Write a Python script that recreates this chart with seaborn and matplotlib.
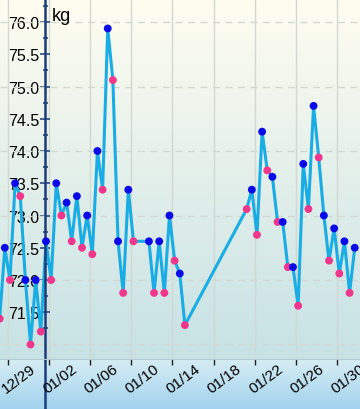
import numpy as np
import pandas as pd
import matplotlib
matplotlib.use("Agg")
import matplotlib.pyplot as plt
from matplotlib.colors import LinearSegmentedColormap
import seaborn as sns


# morning (pink) and evening (blue) weigh-ins
AM_DAYS = ['2014-12-28', '2014-12-29', '2014-12-30', '2014-12-31', '2015-01-01',
           '2015-01-02', '2015-01-03', '2015-01-04', '2015-01-05', '2015-01-06',
           '2015-01-07', '2015-01-08', '2015-01-09', '2015-01-10', '2015-01-12',
           '2015-01-13', '2015-01-14', '2015-01-15', '2015-01-21', '2015-01-22',
           '2015-01-23', '2015-01-24', '2015-01-25', '2015-01-26', '2015-01-27',
           '2015-01-28', '2015-01-29', '2015-01-30', '2015-01-31']
AM_KG = [71.4, 72.0, 73.3, 71.0, 71.2,
         72.0, 73.0, 72.6, 72.5, 72.4,
         73.4, 75.1, 71.8, 72.6, 71.8,
         71.8, 72.3, 71.3, 73.1, 72.7,
         73.7, 72.9, 72.2, 71.6, 73.1,
         73.9, 72.3, 72.1, 71.8]

PM_DAYS = ['2014-12-28', '2014-12-29', '2014-12-30', '2014-12-31', '2015-01-01',
           '2015-01-02', '2015-01-03', '2015-01-04', '2015-01-05', '2015-01-06',
           '2015-01-07', '2015-01-08', '2015-01-09', '2015-01-11', '2015-01-12',
           '2015-01-13', '2015-01-14', '2015-01-21', '2015-01-22', '2015-01-23',
           '2015-01-24', '2015-01-25', '2015-01-26', '2015-01-27', '2015-01-28',
           '2015-01-29', '2015-01-30', '2015-01-31']
PM_KG = [72.5, 73.5, 72.0, 72.0, 72.6,
         73.5, 73.2, 73.3, 73.0, 74.0,
         75.9, 72.6, 73.4, 72.6, 72.6,
         73.0, 72.1, 73.4, 74.3, 73.6,
         72.9, 72.2, 73.8, 74.7, 73.0,
         72.8, 72.6, 72.5]

TICK_DAYS = ['2014-12-29', '2015-01-02', '2015-01-06', '2015-01-10', '2015-01-14',
             '2015-01-18', '2015-01-22', '2015-01-26', '2015-01-30']
TICK_LABELS = ['12/29', '01/02', '01/06', '01/10', '01/14',
               '01/18', '01/22', '01/26', '01/30']
Y_MAJOR = [71.5, 72.0, 72.5, 73.0, 73.5, 74.0, 74.5, 75.0, 75.5, 76.0]
Y_MINOR = [71.25, 71.75, 72.25, 72.75, 73.25, 73.75, 74.25, 74.75, 75.25, 75.75, 76.25]
GRID_KG = [71, 72, 73, 74, 75, 76]

NAVY = '#1b3c7c'
LINE = '#19ade6'
PINK = '#f0378c'
BLUE = '#0a0ae8'


def build_frame():
    am = pd.DataFrame({'time': pd.to_datetime(AM_DAYS) + pd.Timedelta(hours=5),
                       'kg': AM_KG, 'slot': 'am'})
    pm = pd.DataFrame({'time': pd.to_datetime(PM_DAYS) + pd.Timedelta(hours=17),
                       'kg': PM_KG, 'slot': 'pm'})
    return pd.concat([am, pm]).sort_values('time').reset_index(drop=True)


def gradient_axes(fig, rect, top, bottom):
    bg = fig.add_axes(rect)
    cmap = LinearSegmentedColormap.from_list('g', [top, bottom])
    bg.imshow(np.linspace(0, 1, 128).reshape(-1, 1), cmap=cmap, aspect='auto',
              extent=[0, 1, 0, 1], origin='upper')
    bg.set_xlim(0, 1)
    bg.set_ylim(0, 1)
    bg.axis('off')
    return bg


def plot_weight(df):
    fig = plt.figure(figsize=(3.6, 4.1), dpi=100)
    plot_rect = [0, 50 / 410, 1, 360 / 410]
    band = gradient_axes(fig, [0, 0, 1, 50 / 410], '#d6edf4', '#a2d3ee')
    band.axvline(0.125, color=NAVY, lw=1.8)
    gradient_axes(fig, plot_rect, '#fffdf0', '#c7e2e5')

    ax = fig.add_axes(plot_rect)
    ax.patch.set_alpha(0)
    ax.set_axisbelow(True)

    sns.lineplot(data=df, x='time', y='kg', color=LINE, lw=2.2,
                 estimator=None, sort=True, ax=ax, zorder=2)
    sns.scatterplot(data=df, x='time', y='kg', hue='slot',
                    palette={'am': PINK, 'pm': BLUE}, s=32, edgecolor='none',
                    legend=False, ax=ax, zorder=3)

    origin = pd.Timestamp('2015-01-01')
    x0 = origin + pd.Timedelta(days=-3.76)
    x1 = origin + pd.Timedelta(days=31.22)
    ax.set_xlim(x0, x1)
    ax.set_ylim(70.775, 76.357)

    for kg in GRID_KG:
        ax.axhline(kg, color='#d3d8d3', lw=1, dashes=(5, 4), zorder=1)

    ax.set_xticks(pd.to_datetime(TICK_DAYS))
    ax.set_xticklabels(TICK_LABELS)
    ax.xaxis.grid(True, color='#d2d8d2', lw=1)
    ax.tick_params(axis='x', bottom=True, direction='out', length=4.5, width=1,
                   color='#222222', labelcolor='black', labelsize=11, pad=22)
    plt.setp(ax.get_xticklabels(), rotation=37, ha='left', va='bottom',
             rotation_mode='anchor')

    ax.set_yticks(Y_MAJOR)
    ax.set_yticklabels(['%.1f' % v for v in Y_MAJOR])
    ax.set_yticks(Y_MINOR, minor=True)
    ax.tick_params(axis='y', which='major', left=True, direction='inout',
                   length=6.5, width=1.1, color=NAVY, labelcolor='black',
                   labelsize=11.5, pad=1)
    ax.tick_params(axis='y', which='minor', left=True, direction='inout',
                   length=3.6, width=1.1, color=NAVY)

    ax.spines['left'].set_position(('axes', 0.125))
    ax.spines['left'].set_color(NAVY)
    ax.spines['left'].set_linewidth(1.8)
    ax.spines['bottom'].set_color('#b5ccd4')
    ax.spines['bottom'].set_linewidth(0.8)
    ax.spines['top'].set_visible(False)
    ax.spines['right'].set_visible(False)

    ax.set_xlabel('')
    ax.set_ylabel('')
    ax.text(52 / 360, 1 - 21 / 360, 'kg', transform=ax.transAxes,
            fontsize=13, va='baseline', ha='left', color='black')

    fig.savefig('out.png', dpi=100)


if __name__ == '__main__':
    sns.set_style('white')
    plt.rcParams['font.family'] = ['Liberation Sans', 'DejaVu Sans']
    df = build_frame()
    plot_weight(df)
